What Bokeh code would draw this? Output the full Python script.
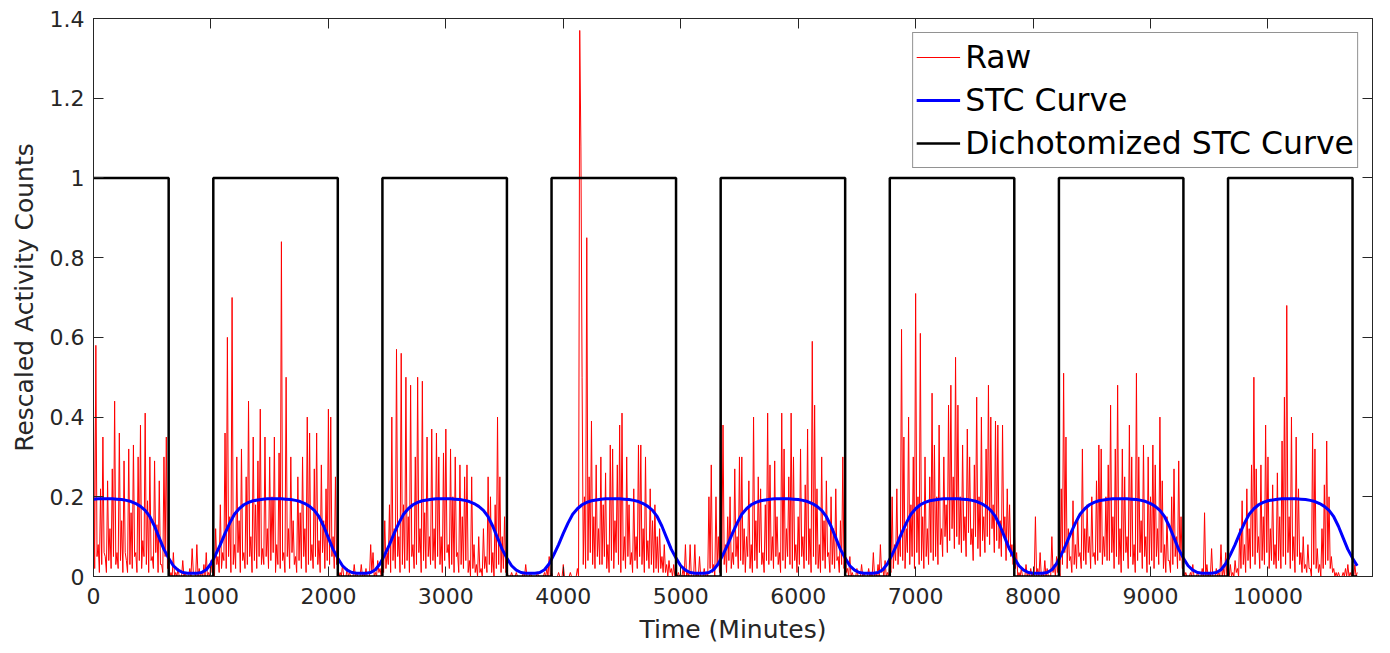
from bokeh.plotting import figure
from bokeh.models import Range1d, LinearAxis, FixedTicker, Legend, LegendItem
from bokeh.embed import file_html
from bokeh.resources import INLINE
import numpy as np

# ---------------- data ----------------
x_ticks = [0, 1000, 2000, 3000, 4000, 5000, 6000, 7000, 8000, 9000, 10000]
y_ticks = [0, 0.2, 0.4, 0.6, 0.8, 1, 1.2, 1.4]
y_labels = ["0", "0.2", "0.4", "0.6", "0.8", "1", "1.2", "1.4"]

raw_step = 10      # minutes between raw samples
raw_scale = 0.01   # raw values are stored in hundredths
raw_d0 = [43,2,58,5,8,1,22,3,35,6, 5,1,24,4,12,2,27,5,44,3,
          6,2,36,4,14,1,29,6,4,1, 32,3,16,2,33,5,6,1,30,4,
          38,2,9,5,41,3,19,1,30,4, 5,2,29,6,13,1,24,3,3,1,
          30,5,35,2,4,0,1,0,6,0, 1,0,2,0,0,0,4,0,1,0,
          0,0,2,0,7,1,1,0,8,0, 2,0,1,0,3,0,6,0,1,0,
          4,1,2,0,12,3,5,1,18,2, 6,4,36,2,60,5,15,1,70,3,
          8,2,30,6,14,1,32,4,6,2, 25,3,44,5,10,1,35,4,18,2,
          29,5,42,3]
raw_d1 = [7,3,35,5,12,2,30,4,20,6, 35,1,8,3,31,2,84,4,6,1,
          50,5,12,2,30,6,14,3,5,1, 25,4,16,2,30,5,12,1,40,3,
          36,4,8,2,27,5,36,3,9,1, 28,6,14,2,22,4,42,3,40,5,
          10,2,25,3,3,0,1,0,3,0, 0,0,2,0,1,0,0,0,3,0,
          1,0,0,0,3,0,1,0,2,0, 0,0,8,1,6,0,1,0,4,1,
          2,0,5,1,14,2,6,3,18,1, 40,4,12,2,57,5,10,1,56,3,
          18,2,50,4,15,1,48,5,8,2, 30,3,50,6,12,1,49,4,16,2,
          35,5,10,3]
raw_d2 = [37,4,12,2,36,5,30,3,10,1, 31,4,37,6,8,2,32,3,20,1,
          30,5,6,1,28,3,15,2,25,4, 28,1,4,0,25,2,8,1,3,0,
          10,1,2,0,12,2,5,1,25,3, 20,1,6,0,18,2,40,3,25,1,
          10,2,15,1,2,0,0,0,1,0, 0,0,1,0,0,0,0,0,1,0,
          3,0,0,0,1,0,0,0,0,0, 1,0,0,0,0,0,1,0,2,0,
          5,0,1,0,0,0,0,0,1,0, 0,0,3,0,0,0,0,0,1,0,
          0,0,0,0,2,0,137,108,50,3, 20,2,85,4,25,6,39,3,15,2,
          28,5,12,3]
raw_d3 = [30,3,18,5,26,2,8,1,33,4, 32,2,14,6,28,3,38,1,41,4,
          10,2,30,5,18,3,6,1,22,4, 10,2,33,5,33,3,12,1,30,4,
          9,2,22,3,14,1,18,2,10,1, 12,2,5,1,8,1,3,0,4,1,
          2,0,3,0,0,0,1,0,0,0, 2,0,8,0,1,0,8,0,0,0,
          8,0,1,0,5,0,0,0,2,0, 1,0,20,2,28,1,3,0,20,3,
          10,1,47,5,38,3,8,1,15,4, 20,2,6,3,27,5,10,2,30,4,
          30,3,12,1,10,5,24,2,8,1, 40,4,14,2,25,6,22,3,6,1,
          18,4,41,3]
raw_d4 = [28,4,10,2,29,5,15,3,6,1, 41,4,32,2,12,5,25,3,41,2,
          30,4,8,1,15,3,32,5,10,2, 23,4,37,3,12,1,59,5,43,3,
          22,2,8,1,30,4,14,2,24,5, 6,1,20,3,12,2,22,4,5,1,
          14,3,30,2,8,1,2,0,5,0, 1,0,0,0,2,0,0,0,3,0,
          1,0,0,0,2,0,1,0,6,0, 1,0,3,0,8,1,2,0,4,0,
          1,0,3,1,20,2,8,4,22,3, 10,5,62,4,35,2,12,6,40,3,
          18,5,30,2,71,6,20,3,61,4, 15,2,30,5,12,3,25,6,46,4,
          33,5,20,3]
raw_d5 = [38,8,12,5,30,10,18,6,43,9, 48,12,25,7,55,10,43,8,20,6,
          33,9,15,5,37,11,30,8,12,4, 28,10,45,7,20,5,40,9,15,6,
          32,10,48,8,40,12,18,6,39,9, 38,7,14,5,38,10,15,4,22,8,
          18,5,8,3,12,2,6,0,1,0, 2,0,0,0,3,0,1,0,2,0,
          1,0,15,0,2,0,6,0,1,0, 4,0,2,0,0,0,10,1,3,0,
          5,1,2,0,22,3,51,6,35,2, 12,4,5,1,19,3,8,2,15,5,
          6,2,32,4,12,3,18,6,10,2, 20,5,6,3,24,4,33,6,32,3,
          10,5,20,4]
raw_d6 = [28,4,43,6,15,2,32,5,48,3, 12,1,32,4,25,6,10,2,38,5,
          30,3,8,1,51,4,30,6,14,2, 33,5,10,1,30,3,20,4,33,2,
          28,5,12,3,40,6,24,2,8,1, 15,4,4,1,20,3,27,5,10,2,
          29,4,15,2,2,0,1,0,0,0, 1,0,3,0,0,0,1,0,0,0,
          2,0,16,0,3,0,1,0,7,0, 0,0,2,0,1,0,8,0,2,0,
          6,0,1,0,3,0,1,0,4,1, 2,0,12,2,19,3,8,1,22,4,
          12,2,28,5,50,3,27,6,10,2, 28,4,15,3,38,6,30,2,12,4,
          23,3,8,2]
raw_d7 = [26,4,15,2,34,5,45,3,68,6, 15,2,40,4,10,1,35,5,22,3,
          6,1,10,2,3,1,8,2,2,0, 36,3,32,2,7,1,3,0,12,2,
          23,3,34,4,20,2,5,1,2,0, 1,0,1,0,0,0,1,0,2,0,
          3,0,1,0,2,0,3,0,1]

stc_step = 40       # minutes between STC samples
stc_scale = 0.001   # STC values are stored in thousandths
stc_d0 = [194,195,195,195,195,194,193,191,188,183,176,166,150,126,97,68,46,27,16,10,8,8,8,10,17,32,55,80,108,134,156,170,180,186,190,192]
stc_d1 = [194,195,195,195,195,194,193,191,188,183,176,166,150,126,97,68,46,27,16,10,8,8,8,10,17,32,55,80,108,134,156,170,180,186,190,192]
stc_d2 = [194,195,195,195,195,194,193,191,188,183,176,166,150,126,97,68,46,27,16,10,8,8,8,10,17,32,55,80,108,134,156,170,180,186,190,192]
stc_d3 = [194,195,195,195,195,194,193,191,188,183,176,166,150,126,97,68,46,27,16,10,8,8,8,10,17,32,55,80,108,134,156,170,180,186,190,192]
stc_d4 = [194,195,195,195,195,194,193,191,188,183,176,166,150,126,97,68,46,27,16,10,8,8,8,10,17,32,55,80,108,134,156,170,180,186,190,192]
stc_d5 = [194,195,195,195,195,194,193,191,188,183,176,166,150,126,97,68,46,27,16,10,8,8,8,10,17,32,55,80,108,134,156,170,180,186,190,192]
stc_d6 = [194,195,195,195,195,194,193,191,188,183,176,166,150,126,97,68,46,27,16,10,8,8,8,10,17,32,55,80,108,134,156,170,180,186,190,192]
stc_d7 = [194,195,195,195,195,194,193,191,188,183,176,166,150,126,97,68,46,27]

dich_x = [0, 640, 640, 1020, 1020, 2080, 2080, 2460, 2460, 3520, 3520, 3900, 3900, 4960, 4960,
          5340, 5340, 6400, 6400, 6780, 6780, 7840, 7840, 8220, 8220, 9280, 9280, 9660, 9660,
          10720, 10720, 10760]
dich_y = [1, 1, 0, 0, 1, 1, 0, 0, 1, 1, 0, 0, 1, 1, 0, 0,
          1, 1, 0, 0, 1, 1, 0, 0, 1, 1, 0, 0, 1, 1, 0, 0]

# ---------------- build ----------------
raw_v = np.array(raw_d0 + raw_d1 + raw_d2 + raw_d3 + raw_d4 + raw_d5 + raw_d6 + raw_d7) * raw_scale
raw_t = np.arange(len(raw_v)) * raw_step
stc_v = np.array(stc_d0 + stc_d1 + stc_d2 + stc_d3 + stc_d4 + stc_d5 + stc_d6 + stc_d7) * stc_scale
stc_t = np.arange(len(stc_v)) * stc_step

FONT = "DejaVu Sans"
TXT = "#262626"

p = figure(width=1381, height=651, x_range=Range1d(0, 10890), y_range=Range1d(0, 1.4),
           output_backend="svg", toolbar_location=None,
           min_border_left=93, min_border_right=9, min_border_top=18, min_border_bottom=75,
           x_axis_label="Time (Minutes)", y_axis_label="Rescaled Activity Counts")
p.background_fill_color = "white"
p.border_fill_color = "white"
p.outline_line_color = TXT
p.xgrid.grid_line_color = None
p.ygrid.grid_line_color = None

p.xaxis.ticker = FixedTicker(ticks=x_ticks)
p.yaxis.ticker = FixedTicker(ticks=y_ticks)
p.yaxis.major_label_overrides = {v: s for v, s in zip(y_ticks, y_labels)}

for ax in (p.xaxis[0], p.yaxis[0]):
    ax.major_tick_in = 10
    ax.major_tick_out = 0
    ax.minor_tick_line_color = None
    ax.axis_line_color = TXT
    ax.major_tick_line_color = TXT
    ax.major_label_text_font = FONT
    ax.major_label_text_font_size = "22px"
    ax.major_label_text_color = TXT
    ax.axis_label_text_font = FONT
    ax.axis_label_text_font_size = "25px"
    ax.axis_label_text_font_style = "normal"
    ax.axis_label_text_color = TXT
p.xaxis.major_label_standoff = 11
p.xaxis.axis_label_standoff = 8
p.yaxis.major_label_standoff = 9
p.yaxis.axis_label_standoff = 8

top_ax = LinearAxis(ticker=FixedTicker(ticks=x_ticks), major_label_text_font_size="0px",
                    major_label_text_color=None,
                    major_tick_in=10, major_tick_out=0, minor_tick_line_color=None,
                    major_label_standoff=0, axis_line_color=TXT, major_tick_line_color=TXT)
right_ax = LinearAxis(ticker=FixedTicker(ticks=y_ticks), major_label_text_font_size="0px",
                      major_label_text_color=None,
                      major_tick_in=10, major_tick_out=0, minor_tick_line_color=None,
                      major_label_standoff=0, axis_line_color=TXT, major_tick_line_color=TXT)
p.add_layout(top_ax, "above")
p.add_layout(right_ax, "right")

r_raw = p.line(raw_t, raw_v, line_color="#ff0000", line_width=1.0)
r_stc = p.line(stc_t, stc_v, line_color="#0000ff", line_width=3)
r_dich = p.line(dich_x, dich_y, line_color="#000000", line_width=2.5)

legend = Legend(items=[LegendItem(label="Raw", renderers=[r_raw]),
                       LegendItem(label="STC Curve", renderers=[r_stc]),
                       LegendItem(label="Dichotomized STC Curve", renderers=[r_dich])],
                location="top_right", margin=14, padding=3, spacing=1,
                label_height=42, glyph_height=42, glyph_width=44, label_standoff=5,
                label_text_font=FONT, label_text_font_size="31.5px", label_text_color="#000000",
                border_line_color=TXT, border_line_width=1,
                background_fill_color="white", background_fill_alpha=1)
p.add_layout(legend)

open("out.html", "w").write(file_html(p, INLINE))
